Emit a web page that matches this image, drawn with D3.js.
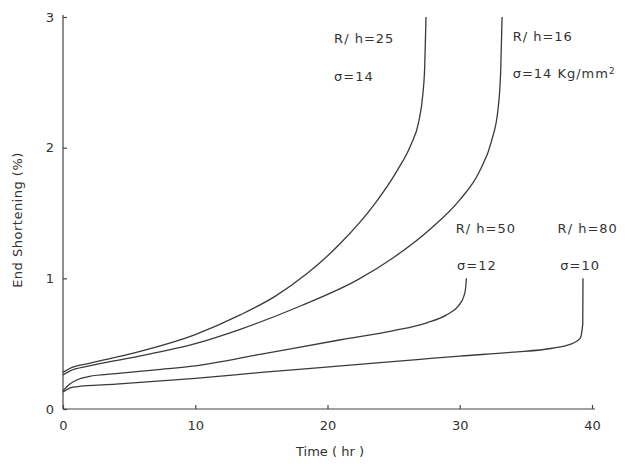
<!DOCTYPE html>
<html>
<head>
<meta charset="utf-8">
<script src="https://cdn.jsdelivr.net/npm/d3@7"></script>
<style>
  body { margin: 0; background: #fff; }
  text { font-family: "DejaVu Sans", sans-serif; fill: #333; }
</style>
</head>
<body>
<div id="chart"></div>
<script>
'use strict'

// time (hr) vs end shortening (%) for each shell
let curveNames = ["R/h=25", "R/h=16", "R/h=50", "R/h=80"]

let timeA = [0, 0.5, 2, 5, 10, 13.4, 16, 18.5, 21, 23.5, 25.3, 26.3, 26.9, 27.2, 27.35, 27.45]
let endA  = [0.28, 0.31, 0.35, 0.42, 0.57, 0.72, 0.86, 1.04, 1.27, 1.56, 1.83, 2.02, 2.2, 2.4, 2.62, 3.0]

let timeB = [0, 0.5, 2, 5, 10, 13.4, 18, 22.3, 25, 27.8, 30, 31.5, 32.4, 32.9, 33.1, 33.2]
let endB  = [0.26, 0.29, 0.33, 0.39, 0.50, 0.61, 0.79, 0.99, 1.16, 1.38, 1.6, 1.82, 2.05, 2.3, 2.6, 3.0]

let timeC = [0, 0.5, 1, 2, 4, 7, 10, 15, 21, 25, 27.5, 29, 29.9, 30.3, 30.45, 30.5]
let endC  = [0.14, 0.19, 0.22, 0.25, 0.27, 0.30, 0.33, 0.42, 0.53, 0.60, 0.66, 0.72, 0.79, 0.86, 0.93, 1.0]

let timeD = [0, 0.5, 1, 4, 10, 15, 21.7, 27, 30, 34, 37, 38.5, 39.1, 39.3, 39.32]
let endD  = [0.13, 0.16, 0.17, 0.19, 0.235, 0.28, 0.335, 0.38, 0.405, 0.435, 0.465, 0.50, 0.54, 0.65, 1.0]

let xTicks = [0, 10, 20, 30, 40]
let yTicks = [0, 1, 2, 3]

// curve annotations (text, and anchor in data units)
let noteText = ["R/ h=25", "σ=14", "R/ h=16", "σ=14 Kg/mm", "R/ h=50", "σ=12", "R/ h=80", "σ=10"]
let noteTime = [20.5, 20.5, 34.0, 34.0, 29.7, 29.8, 37.4, 37.6]
let noteEnd  = [2.80, 2.51, 2.82, 2.53, 1.35, 1.06, 1.35, 1.06]

let width = 628
let height = 470
let margin = { top: 17, right: 36, bottom: 61, left: 63 }

let svg = d3.select("#chart").append("svg")
  .attr("width", width)
  .attr("height", height)

let xscale = d3.scaleLinear()
  .domain([0, 40])
  .range([margin.left, width - margin.right])

let yscale = d3.scaleLinear()
  .domain([0, 3])
  .range([height - margin.bottom, margin.top])

let x_axis = d3.axisBottom(xscale)
  .tickValues(xTicks)
  .tickFormat(d3.format("d"))
  .tickSizeInner(-4)
  .tickSizeOuter(0)
  .tickPadding(16)

let y_axis = d3.axisLeft(yscale)
  .tickValues(yTicks)
  .tickFormat(d3.format("d"))
  .tickSizeInner(-4)
  .tickSizeOuter(0)
  .tickPadding(9)

let gx = svg.append("g")
  .attr("transform", "translate(0," + (height - margin.bottom) + ")")
  .call(x_axis)

let gy = svg.append("g")
  .attr("transform", "translate(" + margin.left + ",0)")
  .call(y_axis)

gx.select(".domain").attr("d", "M" + xscale(0) + ",0H" + (xscale(40) + 3))
gy.select(".domain").attr("d", "M0," + yscale(0) + "V" + (yscale(3) - 2))

svg.selectAll(".domain, .tick line")
  .attr("stroke", "#444")
  .attr("stroke-width", 1.2)
svg.selectAll(".tick text")
  .style("font-size", "13px")
  .style("fill", "#333")
gx.selectAll(".tick text").attr("dy", "0.4em")

// axis titles
svg.append("text")
  .attr("text-anchor", "middle")
  .attr("transform", "translate(22," + 220 + ")rotate(-90)")
  .style("font-size", "13px")
  .style("letter-spacing", "0.5px")
  .text("End  Shortening (%)")

svg.append("text")
  .attr("text-anchor", "middle")
  .attr("x", 330)
  .attr("y", 456)
  .style("font-size", "13px")
  .text("Time ( hr )")

// curves
let series = [
  d3.zip(timeA, endA),
  d3.zip(timeB, endB),
  d3.zip(timeC, endC),
  d3.zip(timeD, endD)
]

let line = d3.line()
  .x(d => xscale(d[0]))
  .y(d => yscale(d[1]))
  .curve(d3.curveMonotoneX)

svg.selectAll(".curve")
  .data(series)
  .enter()
  .append("path")
  .attr("class", "curve")
  .attr("d", line)
  .attr("fill", "none")
  .attr("stroke", "#3a3a3a")
  .attr("stroke-width", 1.3)

// labels
let notes = svg.selectAll(".note")
  .data(noteText)
  .enter()
  .append("text")
  .attr("class", "note")
  .attr("x", (d, i) => xscale(noteTime[i]))
  .attr("y", (d, i) => yscale(noteEnd[i]))
  .style("font-size", "13px")
  .style("letter-spacing", "1px")
  .text(d => d)

notes.filter(d => d.endsWith("mm"))
  .append("tspan")
  .attr("dy", "-0.45em")
  .style("font-size", "9px")
  .text("2")
</script>
</body>
</html>
